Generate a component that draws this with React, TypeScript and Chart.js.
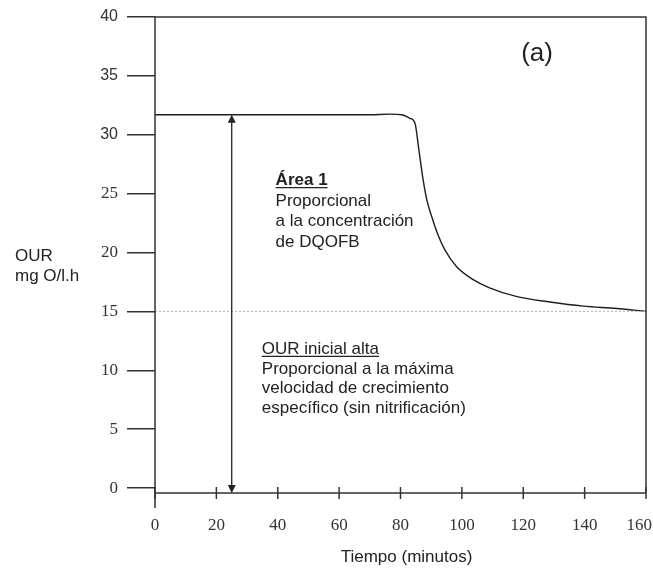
import React, { useEffect, useRef } from "react";
import { Chart, registerables } from "chart.js";

Chart.register(...registerables);

// ---- data ----
const timeMinutes = [0, 70, 76.5, 80.5, 83, 84.7, 86.0, 87.3, 88.6, 90.3, 92.2, 94.5, 98.3, 103.7, 109, 118, 128.7, 139.6, 150.4, 160];
const ourValues = [31.7, 31.7, 31.75, 31.7, 31.4, 31.0, 28.7, 26.3, 24.45, 22.95, 21.5, 20.2, 18.8, 17.7, 17.0, 16.25, 15.8, 15.45, 15.25, 15.0];
const baselineTime = [0, 160];
const baselineOur = [15, 15];
const xTickValues = [0, 20, 40, 60, 80, 100, 120, 140, 160];
const yTickValues = [0, 5, 10, 15, 20, 25, 30, 35, 40];
const arrowTime = 25;
const X_MIN = 0;
const X_MAX = 160;
const Y_MIN = -0.42;
const Y_MAX = 40;

const SANS = "'Liberation Sans', Arial, sans-serif";
const SERIF = "'Liberation Serif', 'Times New Roman', serif";

const decorPlugin = {
  id: "decor",
  afterDraw(chart: any) {
    const { ctx, chartArea, scales } = chart;
    const xs = scales.x;
    const ys = scales.y;
    const { left, right, top, bottom } = chartArea;
    ctx.save();
    // frame and axes
    ctx.strokeStyle = "#333";
    ctx.lineWidth = 1.5;
    ctx.beginPath();
    ctx.moveTo(left, top);
    ctx.lineTo(right, top);
    ctx.lineTo(right, bottom);
    ctx.moveTo(left, top);
    ctx.lineTo(left, bottom + 15);
    ctx.moveTo(left, bottom);
    ctx.lineTo(right, bottom);
    ctx.stroke();

    // x ticks crossing the axis + labels
    ctx.fillStyle = "#333";
    ctx.font = `17px ${SERIF}`;
    ctx.textAlign = "center";
    ctx.textBaseline = "alphabetic";
    xs.ticks.forEach((t: any) => {
      const px = xs.getPixelForValue(t.value);
      ctx.beginPath();
      ctx.moveTo(px, bottom - 6);
      ctx.lineTo(px, bottom + 6);
      ctx.stroke();
      const label = String(t.value);
      const w = ctx.measureText(label).width;
      let cx = px;
      if (cx + w / 2 > chart.width - 1) cx = chart.width - 1 - w / 2;
      ctx.fillText(label, cx, bottom + 37);
    });

    // x title
    ctx.fillStyle = "#222";
    ctx.font = `17px ${SANS}`;
    ctx.textAlign = "center";
    ctx.fillText("Tiempo (minutos)", (left + right) / 2 + 6, bottom + 69);

    // y title
    ctx.textAlign = "left";
    ctx.fillText("OUR", 15, ys.getPixelForValue(19.3));
    ctx.fillText("mg O/l.h", 15, ys.getPixelForValue(17.6));

    // double arrow
    const ax = xs.getPixelForValue(arrowTime);
    const aTop = ys.getPixelForValue(ourValues[0]);
    const aBot = ys.getPixelForValue(Y_MIN);
    ctx.strokeStyle = "#222";
    ctx.fillStyle = "#222";
    ctx.lineWidth = 1.3;
    ctx.beginPath();
    ctx.moveTo(ax, aTop + 6);
    ctx.lineTo(ax, aBot - 6);
    ctx.stroke();
    ctx.beginPath();
    ctx.moveTo(ax, aTop);
    ctx.lineTo(ax - 4, aTop + 8);
    ctx.lineTo(ax + 4, aTop + 8);
    ctx.closePath();
    ctx.fill();
    ctx.beginPath();
    ctx.moveTo(ax, aBot);
    ctx.lineTo(ax - 4, aBot - 8);
    ctx.lineTo(ax + 4, aBot - 8);
    ctx.closePath();
    ctx.fill();

    // annotations
    const text = (s: string, x: number, y: number, font: string, underline = false) => {
      ctx.font = font;
      ctx.textAlign = "left";
      ctx.fillText(s, x, y);
      if (underline) {
        const w = ctx.measureText(s).width;
        ctx.lineWidth = 1.2;
        ctx.beginPath();
        ctx.moveTo(x, y + 2.5);
        ctx.lineTo(x + w, y + 2.5);
        ctx.stroke();
      }
    };
    ctx.fillStyle = "#222";
    ctx.strokeStyle = "#222";
    ctx.font = `26px ${SANS}`;
    ctx.textAlign = "center";
    ctx.fillText("(a)", xs.getPixelForValue(124.5), ys.getPixelForValue(36.26));

    const a1x = xs.getPixelForValue(39.3);
    const a1y = ys.getPixelForValue(25.73);
    const lh = 20.5;
    text("Área 1", a1x, a1y, `bold 17px ${SANS}`, true);
    text("Proporcional", a1x, a1y + lh, `17px ${SANS}`);
    text("a la concentración", a1x, a1y + 2 * lh, `17px ${SANS}`);
    text("de DQOFB", a1x, a1y + 3 * lh, `17px ${SANS}`);

    const o1x = xs.getPixelForValue(34.8);
    const o1y = ys.getPixelForValue(11.4);
    const lh2 = 19.8;
    text("OUR inicial alta", o1x, o1y, `17px ${SANS}`, true);
    text("Proporcional a la máxima", o1x, o1y + lh2, `17px ${SANS}`);
    text("velocidad de crecimiento", o1x, o1y + 2 * lh2, `17px ${SANS}`);
    text("específico (sin nitrificación)", o1x, o1y + 3 * lh2, `17px ${SANS}`);

    ctx.restore();
  },
};

export default function App() {
  const ref = useRef<HTMLCanvasElement | null>(null);
  useEffect(() => {
    if (!ref.current) return;
    const chart = new Chart(ref.current, {
      type: "line",
      data: {
        datasets: [
          {
            data: baselineTime.map((t, i) => ({ x: t, y: baselineOur[i] })),
            borderColor: "#b5b5b5",
            borderWidth: 1,
            borderDash: [2, 2],
            pointRadius: 0,
          },
          {
            data: timeMinutes.map((t, i) => ({ x: t, y: ourValues[i] })),
            borderColor: "#1e1e1e",
            borderWidth: 1.4,
            pointRadius: 0,
            cubicInterpolationMode: "monotone",
          },
        ],
      },
      options: {
        responsive: false,
        animation: false,
        layout: { padding: { top: 17, right: 7, left: 0, bottom: 0 } },
        plugins: { legend: { display: false }, tooltip: { enabled: false }, title: { display: false } },
        scales: {
          x: {
            type: "linear",
            min: X_MIN,
            max: X_MAX,
            afterBuildTicks: (s: any) => {
              s.ticks = xTickValues.map((v) => ({ value: v }));
            },
            afterFit: (s: any) => {
              s.height = 76;
              s.paddingLeft = 0;
              s.paddingRight = 0;
            },
            grid: { display: false },
            border: { display: false },
            ticks: { display: false },
          },
          y: {
            type: "linear",
            min: Y_MIN,
            max: Y_MAX,
            afterBuildTicks: (s: any) => {
              s.ticks = yTickValues.map((v) => ({ value: v }));
            },
            afterFit: (s: any) => {
              s.width = 155;
              s.paddingTop = 0;
              s.paddingBottom = 0;
            },
            grid: {
              drawOnChartArea: false,
              drawTicks: true,
              tickLength: 28,
              color: "#333",
              lineWidth: 1.5,
            },
            border: { display: false },
            ticks: {
              padding: 9,
              color: "#333",
              font: (c: any) =>
                c.tick && c.tick.value >= 30
                  ? { family: SANS, size: 16 }
                  : { family: SERIF, size: 17 },
            },
          },
        },
      },
      plugins: [decorPlugin],
    } as any);
    return () => chart.destroy();
  }, []);
  return (
    <div style={{ position: "absolute", left: 0, top: 0, width: 653, height: 569, background: "#fff" }}>
      <canvas ref={ref} width={653} height={569} style={{ display: "block" }} />
    </div>
  );
}
